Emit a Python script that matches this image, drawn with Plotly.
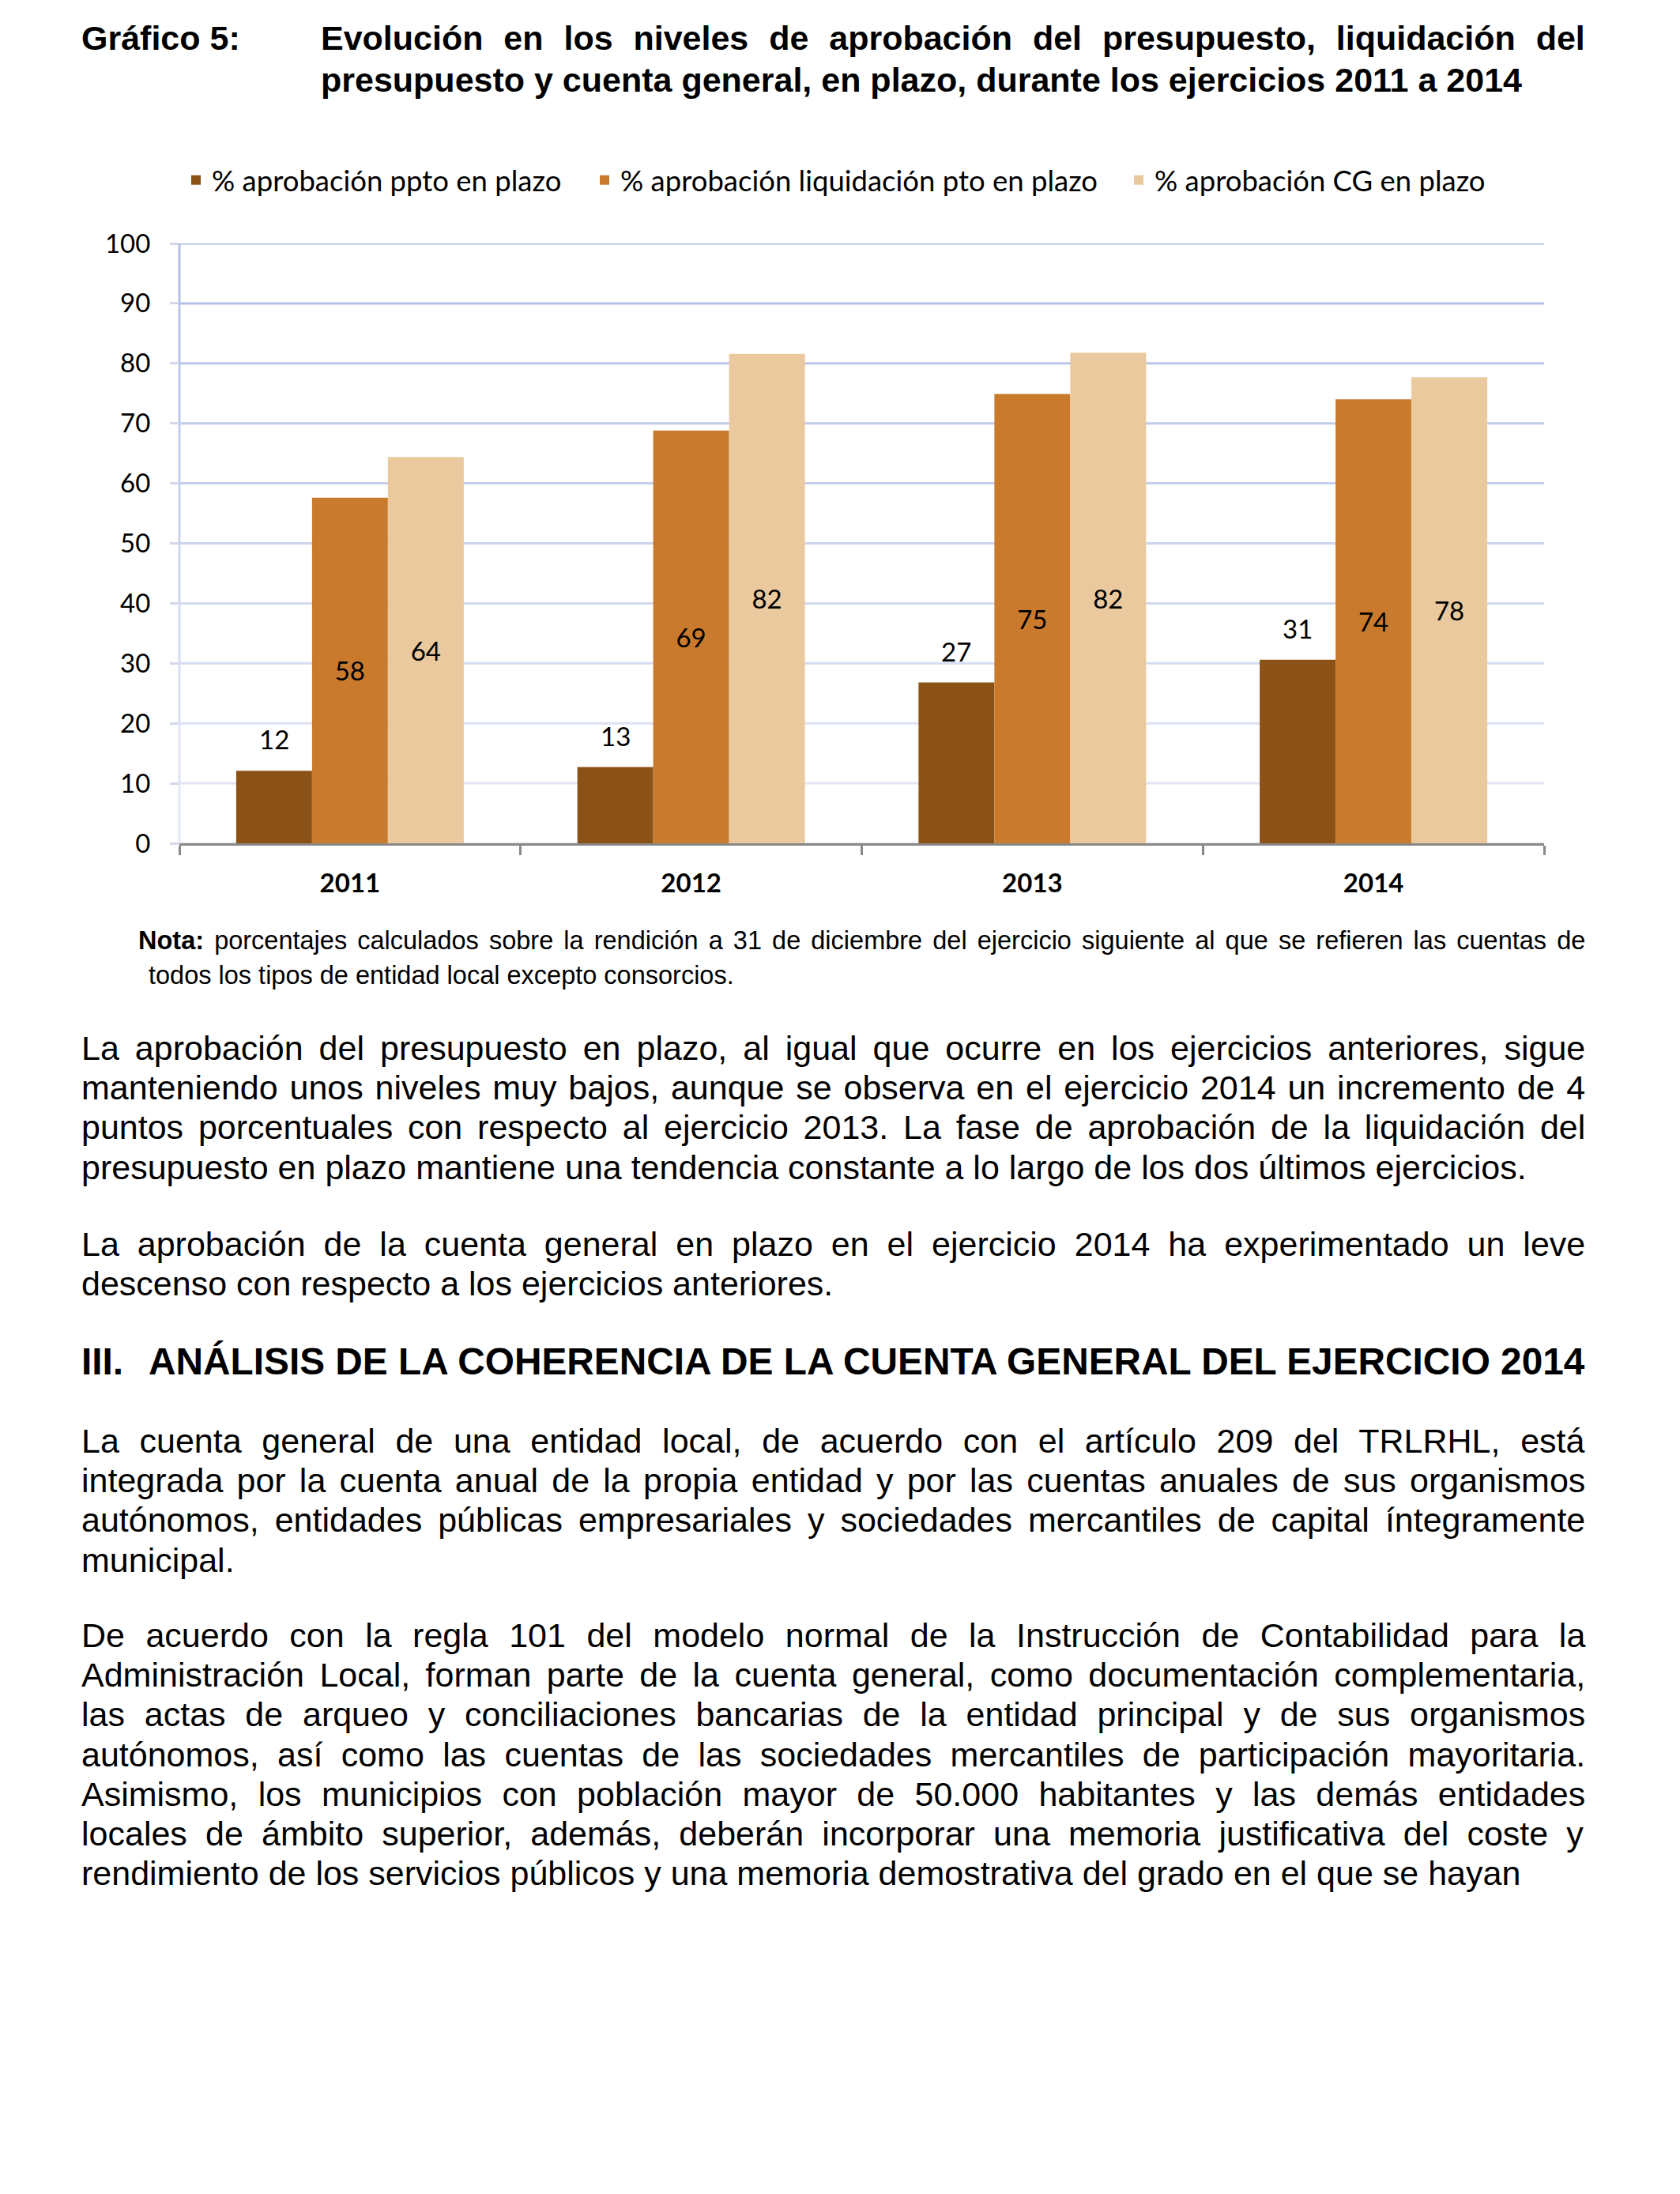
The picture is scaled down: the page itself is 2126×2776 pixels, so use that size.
import plotly.graph_objects as go

# ---------------- data ----------------
years = ["2011", "2012", "2013", "2014"]
pct_ppto = [12.1, 12.7, 26.8, 30.6]
pct_liq = [57.6, 68.8, 74.9, 74.0]
pct_cg = [64.4, 81.6, 81.8, 77.7]
series_names = ["% aprobación ppto en plazo",
                "% aprobación liquidación pto en plazo",
                "% aprobación CG en plazo"]
y_ticks = list(range(0, 101, 10))

title_label = "Gráfico 5:"
title_lines = ["Evolución en los niveles de aprobación del presupuesto, liquidación del",
               "presupuesto y cuenta general, en plazo, durante los ejercicios 2011 a 2014"]
note_bold = "Nota:"
note_lines = [" porcentajes calculados sobre la rendición a 31 de diciembre del ejercicio siguiente al que se refieren las cuentas de",
              " todos los tipos de entidad local excepto consorcios."]
para1 = ["La aprobación del presupuesto en plazo, al igual que ocurre en los ejercicios anteriores, sigue",
         "manteniendo unos niveles muy bajos, aunque se observa en el ejercicio 2014 un incremento de 4",
         "puntos porcentuales con respecto al ejercicio 2013. La fase de aprobación de la liquidación del",
         "presupuesto en plazo mantiene una tendencia constante a lo largo de los dos últimos ejercicios."]
para2 = ["La aprobación de la cuenta general en plazo en el ejercicio 2014 ha experimentado un leve",
         "descenso con respecto a los ejercicios anteriores."]
heading_num = "III."
heading_text = "ANÁLISIS DE LA COHERENCIA DE LA CUENTA GENERAL DEL EJERCICIO 2014"
para3 = ["La cuenta general de una entidad local, de acuerdo con el artículo 209 del TRLRHL, está",
         "integrada por la cuenta anual de la propia entidad y por las cuentas anuales de sus organismos",
         "autónomos, entidades públicas empresariales y sociedades mercantiles de capital íntegramente",
         "municipal."]
para4 = ["De acuerdo con la regla 101 del modelo normal de la Instrucción de Contabilidad para la",
         "Administración Local, forman parte de la cuenta general, como documentación complementaria,",
         "las actas de arqueo y conciliaciones bancarias de la entidad principal y de sus organismos",
         "autónomos, así como las cuentas de las sociedades mercantiles de participación mayoritaria.",
         "Asimismo, los municipios con población mayor de 50.000 habitantes y las demás entidades",
         "locales de ámbito superior, además, deberán incorporar una memoria justificativa del coste y",
         "rendimiento de los servicios públicos y una memoria demostrativa del grado en el que se hayan"]

# ---------------- styles / layout ----------------
W, H = 2126, 2776
PL, PR, PT, PB = 227, 1954, 308, 1067
colors = ["#8B5217", "#CA7A2C", "#E9C99D"]
grid_top = (176, 190, 230)
grid_bot = (232, 234, 246)
BODY_FONT = "Liberation Sans, Arial, sans-serif"
CHART_FONT = "Lato, Calibri, sans-serif"
bargap = 0.333
legend_px = [228, 745, 1421]   # left edge of each legend entry (px)

# Arial / Helvetica metrics (1/1000 em)
_reg = {' ': 278, '%': 889, ',': 278, '.': 278, ':': 278, ';': 278, '-': 333, '(': 333, ')': 333}
_bold = {' ': 278, '%': 889, ',': 278, '.': 278, ':': 333, ';': 333, '-': 333, '(': 333, ')': 333}
for d in '0123456789':
    _reg[d] = 556
    _bold[d] = 556
_reg.update(dict(zip("ABCDEFGHIJKLMNOPQRSTUVWXYZ",
                     [667, 667, 722, 722, 667, 611, 778, 722, 278, 500, 667, 556, 833, 722, 778, 667, 778, 722, 667, 611, 722, 667, 944, 667, 667, 611])))
_reg.update(dict(zip("abcdefghijklmnopqrstuvwxyz",
                     [556, 556, 500, 556, 556, 278, 556, 556, 222, 222, 500, 222, 833, 556, 556, 556, 556, 333, 500, 278, 556, 500, 722, 500, 500, 500])))
_reg.update({'á': 556, 'é': 556, 'í': 278, 'ó': 556, 'ú': 556, 'ñ': 556, 'Á': 667, 'É': 667, 'Í': 278, 'Ó': 778, 'Ú': 722})
_bold.update(dict(zip("ABCDEFGHIJKLMNOPQRSTUVWXYZ",
                      [722, 722, 722, 722, 667, 611, 778, 722, 278, 556, 722, 611, 833, 722, 778, 667, 778, 722, 667, 611, 722, 667, 944, 667, 667, 611])))
_bold.update(dict(zip("abcdefghijklmnopqrstuvwxyz",
                      [556, 611, 556, 611, 556, 333, 611, 611, 278, 278, 556, 278, 889, 611, 611, 611, 611, 389, 556, 333, 611, 556, 778, 556, 556, 500])))
_bold.update({'á': 556, 'é': 556, 'í': 278, 'ó': 611, 'ú': 611, 'ñ': 611, 'Á': 722, 'É': 667, 'Í': 278, 'Ó': 778, 'Ú': 722})


def text_width(s, size, bold=False):
    d = _bold if bold else _reg
    return sum(d.get(c, 556) for c in s) * size / 1000.0


def justified(segments, size, target):
    natural = sum(text_width(t, size, b) for t, b in segments)
    full = "".join(t for t, b in segments)
    nsp = full.strip().count(' ')
    ws = (target - natural) / nsp if nsp else 0
    inner = "".join(("<b>%s</b>" % t) if b else t for t, b in segments)
    return '<span style="word-spacing:%.2fpx">%s</span>' % (ws, inner)


def px_x(px):
    return (px - PL) / (PR - PL)


def px_y(py):
    return (PB - py) / (PB - PT)


fig = go.Figure()

legend_ids = ["legend", "legend2", "legend3"]

# bars
fig.add_trace(go.Bar(x=years, y=pct_ppto, name=series_names[0], legend=legend_ids[0],
                     marker=dict(color=colors[0], line=dict(width=0)), hoverinfo="skip"))
for name, vals, col, lg in zip(series_names[1:], [pct_liq, pct_cg], colors[1:], legend_ids[1:]):
    fig.add_trace(go.Bar(x=years, y=vals, name=name, legend=lg,
                         marker=dict(color=col, line=dict(width=0)),
                         texttemplate="%{y:.0f}", textposition="inside",
                         insidetextanchor="middle", textangle=0, constraintext="none",
                         insidetextfont=dict(family=CHART_FONT, size=33, color="black"),
                         hoverinfo="skip"))

# labels above the first series (x given as category index)
cat_w = (PR - PL) / len(years)
bar_w = cat_w * (1 - bargap) / 3
for i, v in enumerate(pct_ppto):
    fig.add_annotation(x=i, y=v, xref="x", yref="y", text="%.0f" % v, showarrow=False,
                       xshift=-bar_w, yshift=40, yanchor="middle", xanchor="center",
                       font=dict(family=CHART_FONT, size=33, color="black"))


def mix(t):
    return "#%02x%02x%02x" % tuple(round(b + (a - b) * t) for a, b in zip(grid_top, grid_bot))


# gradient gridlines and y axis line
for v in y_ticks:
    fig.add_shape(type="line", xref="paper", yref="y", x0=0, x1=1, y0=v, y1=v,
                  line=dict(color=mix(v / 100), width=3), layer="below")
for a, b in zip(y_ticks[:-1], y_ticks[1:]):
    fig.add_shape(type="line", xref="paper", yref="y", x0=0, x1=0, y0=a, y1=b,
                  line=dict(color=mix((a + b) / 200), width=3), layer="below")

# ------------- page text -------------
def put(html, px, py, size, bold=False):
    fig.add_annotation(text=("<b>%s</b>" % html) if bold else html, xref="paper", yref="paper",
                       x=px_x(px), y=px_y(py), xanchor="left", yanchor="middle",
                       showarrow=False, align="left",
                       font=dict(family=BODY_FONT, size=size, color="black"))


LEFT, RIGHT = 101, 2004
BS = 43
put(title_label, LEFT, 48, BS, bold=True)
put(justified([(title_lines[0], True)], BS, RIGHT - 404), 404, 48, BS)
put("<b>%s</b>" % title_lines[1], 404, 101, BS)

# note
NS = 32.5
put(justified([(note_bold, True), (note_lines[0], False)], NS, RIGHT - 173), 173, 1190, NS)
put(note_lines[1].strip(), 186, 1234, NS)

step = 50.2


def paragraph(lines, y0):
    for i, ln in enumerate(lines):
        py = y0 + i * step
        if i < len(lines) - 1:
            put(justified([(ln, False)], BS, RIGHT - LEFT), LEFT, py, BS)
        else:
            put(ln, LEFT, py, BS)


paragraph(para1, 1326)
paragraph(para2, 1574)
put(heading_num, LEFT, 1722, 47.8, bold=True)
put(heading_text, 186, 1722, 47.8, bold=True)
paragraph(para3, 1823)
paragraph(para4, 2069)

legend_common = dict(orientation="h", yanchor="middle", xanchor="left",
                     font=dict(family=CHART_FONT, size=36.5, color="black"),
                     bgcolor="rgba(0,0,0,0)", itemclick=False, itemdoubleclick=False)

fig.update_layout(
    width=W, height=H,
    margin=dict(l=PL, r=W - PR, t=PT, b=H - PB, autoexpand=False),
    paper_bgcolor="white", plot_bgcolor="white",
    barmode="group", bargap=bargap, bargroupgap=0,
    showlegend=True,
    legend=dict(x=px_x(legend_px[0]), y=px_y(228), **legend_common),
    legend2=dict(x=px_x(legend_px[1]), y=px_y(228), **legend_common),
    legend3=dict(x=px_x(legend_px[2]), y=px_y(228), **legend_common),
    xaxis=dict(type="category", showline=True, linecolor="#888888", linewidth=3,
               ticks="outside", tickson="boundaries", ticklen=12, tickwidth=3, tickcolor="#888888",
               tickfont=dict(family=CHART_FONT, size=33, color="black", weight="bold"),
               ticklabelstandoff=19, showgrid=False, zeroline=False),
    yaxis=dict(range=[0, 100], tickvals=y_ticks, ticks="outside", ticklen=11, tickwidth=3,
               tickcolor="#D3D8EF", tickfont=dict(family=CHART_FONT, size=33, color="black"),
               ticklabelstandoff=18, showgrid=False, zeroline=False, showline=False),
)

fig.write_html("out.html", config={"displayModeBar": False},
               post_script="document.body.style.margin='0';")
